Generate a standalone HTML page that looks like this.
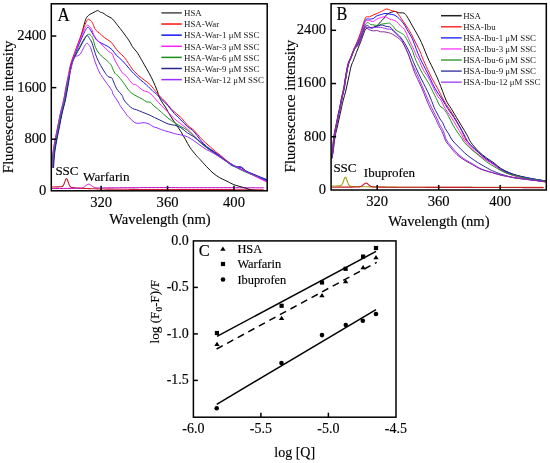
<!DOCTYPE html><html><head><meta charset="utf-8"><style>html,body{margin:0;padding:0;background:#fff;width:550px;height:463px;overflow:hidden}svg{display:block;will-change:transform}text{font-family:"Liberation Serif",serif;fill:#000;stroke:#000;stroke-width:0.15px}</style></head><body>
<svg width="550" height="463" viewBox="0 0 550 463">
<rect width="550" height="463" fill="#fff"/>
<defs>
<clipPath id="ca"><rect x="51.3" y="3.8" width="215.89999999999998" height="187.0"/></clipPath>
<clipPath id="cb"><rect x="331.1" y="3.7" width="215.19999999999993" height="186.3"/></clipPath>
</defs>
<g clip-path="url(#ca)">
<path d="M51.8,187.0 C52.5,187.0 54.5,186.9 55.8,186.9 C57.1,186.9 59.0,186.8 59.8,186.8 C60.5,186.8 60.1,186.8 60.3,186.8 C60.5,186.8 60.6,186.8 60.8,186.8 C61.0,186.8 61.1,186.8 61.3,186.8 C61.5,186.8 61.6,186.7 61.8,186.7 C62.0,186.6 62.1,186.6 62.3,186.5 C62.5,186.4 62.6,186.2 62.8,186.1 C63.0,185.9 63.1,185.7 63.3,185.4 C63.5,185.1 63.6,184.8 63.8,184.4 C64.0,184.1 64.1,183.6 64.3,183.2 C64.5,182.7 64.6,182.2 64.8,181.8 C65.0,181.3 65.1,180.8 65.3,180.4 C65.5,179.9 65.6,179.5 65.8,179.2 C66.0,179.0 66.1,178.8 66.3,178.7 C66.5,178.6 66.6,178.6 66.8,178.8 C67.0,178.9 67.1,179.2 67.3,179.5 C67.5,179.9 67.6,180.3 67.8,180.8 C68.0,181.3 68.1,181.8 68.3,182.3 C68.5,182.8 68.6,183.3 68.8,183.8 C69.0,184.2 69.1,184.7 69.3,185.0 C69.5,185.4 69.6,185.7 69.8,186.0 C70.0,186.3 70.1,186.5 70.3,186.7 C70.5,186.9 70.6,187.0 70.8,187.1 C71.0,187.2 71.1,187.3 71.3,187.4 C71.5,187.4 71.6,187.5 71.8,187.5 C72.0,187.5 72.1,187.6 72.3,187.6 C72.5,187.6 72.6,187.6 72.8,187.6 C73.0,187.7 73.1,187.7 73.3,187.7 C73.5,187.7 73.6,187.7 73.8,187.7 C74.0,187.7 74.1,187.8 74.3,187.8 C74.5,187.8 74.6,187.8 74.8,187.8 C75.0,187.8 74.5,187.8 75.3,187.8 C76.0,187.9 78.0,188.1 79.3,188.1 C80.6,188.2 82.0,188.3 83.3,188.4 C84.6,188.4 86.0,188.5 87.3,188.5 C88.6,188.6 90.0,188.6 91.3,188.7 C92.6,188.7 94.0,188.8 95.3,188.8 C96.6,188.9 98.0,188.9 99.3,189.0 C100.6,189.0 102.0,189.0 103.3,189.0 C104.6,189.1 106.0,189.1 107.3,189.1 C108.6,189.1 110.0,189.1 111.3,189.1 C112.6,189.2 114.0,189.2 115.3,189.2 C116.6,189.2 118.0,189.2 119.3,189.2 C120.6,189.3 122.0,189.3 123.3,189.3 C124.6,189.3 126.0,189.3 127.3,189.3 C128.6,189.4 130.0,189.4 131.3,189.4 C132.6,189.4 134.0,189.4 135.3,189.4 C136.6,189.5 138.0,189.5 139.3,189.5 C140.6,189.5 142.0,189.5 143.3,189.5 C144.6,189.5 146.0,189.5 147.3,189.5 C148.6,189.5 150.0,189.5 151.3,189.5 C152.6,189.5 154.0,189.5 155.3,189.5 C156.6,189.5 158.0,189.5 159.3,189.5 C160.6,189.5 162.0,189.5 163.3,189.5 C164.6,189.5 166.0,189.5 167.3,189.5 C168.6,189.5 170.0,189.5 171.3,189.6 C172.6,189.6 174.0,189.6 175.3,189.6 C176.6,189.6 178.0,189.6 179.3,189.6 C180.6,189.6 182.0,189.6 183.3,189.6 C184.6,189.6 186.0,189.6 187.3,189.6 C188.6,189.6 190.0,189.6 191.3,189.6 C192.6,189.6 194.0,189.6 195.3,189.6 C196.6,189.6 198.0,189.6 199.3,189.6 C200.6,189.6 202.0,189.6 203.3,189.6 C204.6,189.6 206.0,189.6 207.3,189.6 C208.6,189.6 210.0,189.6 211.3,189.6 C212.6,189.6 214.0,189.6 215.3,189.6 C216.6,189.6 218.0,189.6 219.3,189.6 C220.6,189.6 222.0,189.6 223.3,189.6 C224.6,189.6 226.0,189.6 227.3,189.6 C228.6,189.6 230.0,189.6 231.3,189.6 C232.6,189.6 234.0,189.7 235.3,189.7 C236.6,189.7 238.0,189.7 239.3,189.7 C240.6,189.7 242.0,189.7 243.3,189.7 C244.6,189.7 246.0,189.7 247.3,189.7 C248.6,189.7 250.0,189.7 251.3,189.7 C252.6,189.7 254.0,189.7 255.3,189.7 C256.6,189.7 258.0,189.7 259.3,189.7 C260.6,189.7 262.6,189.7 263.3,189.7" fill="none" stroke="#c81a30" stroke-width="1.1" stroke-linejoin="round" stroke-linecap="round" />
<path d="M51.8,188.5 C52.5,188.5 54.5,188.5 55.8,188.5 C57.1,188.5 58.5,188.5 59.8,188.4 C61.1,188.4 62.5,188.4 63.8,188.4 C65.1,188.4 66.5,188.4 67.8,188.4 C69.1,188.4 70.5,188.4 71.8,188.4 C73.1,188.3 75.0,188.3 75.8,188.3 C76.5,188.3 76.1,188.3 76.3,188.3 C76.5,188.3 76.6,188.3 76.8,188.3 C77.0,188.3 77.1,188.3 77.3,188.3 C77.5,188.3 77.6,188.3 77.8,188.3 C78.0,188.3 78.1,188.3 78.3,188.3 C78.5,188.3 78.6,188.3 78.8,188.3 C79.0,188.3 79.1,188.3 79.3,188.3 C79.5,188.3 79.6,188.3 79.8,188.3 C80.0,188.3 80.1,188.2 80.3,188.2 C80.5,188.2 80.6,188.2 80.8,188.2 C81.0,188.2 81.1,188.1 81.3,188.1 C81.5,188.1 81.6,188.0 81.8,188.0 C82.0,188.0 82.1,187.9 82.3,187.9 C82.5,187.8 82.6,187.8 82.8,187.7 C83.0,187.6 83.1,187.6 83.3,187.5 C83.5,187.4 83.6,187.3 83.8,187.2 C84.0,187.1 84.1,187.0 84.3,186.9 C84.5,186.8 84.6,186.7 84.8,186.5 C85.0,186.4 85.1,186.3 85.3,186.1 C85.5,186.0 85.6,185.8 85.8,185.7 C86.0,185.6 86.1,185.4 86.3,185.3 C86.5,185.2 86.6,185.0 86.8,184.9 C87.0,184.8 87.1,184.7 87.3,184.6 C87.5,184.5 87.6,184.4 87.8,184.4 C88.0,184.3 88.1,184.2 88.3,184.2 C88.5,184.2 88.6,184.2 88.8,184.2 C89.0,184.2 89.1,184.2 89.3,184.3 C89.5,184.3 89.6,184.4 89.8,184.5 C90.0,184.6 90.1,184.7 90.3,184.8 C90.5,184.9 90.6,185.0 90.8,185.1 C91.0,185.2 91.1,185.4 91.3,185.5 C91.5,185.6 91.6,185.8 91.8,185.9 C92.0,186.0 92.1,186.2 92.3,186.3 C92.5,186.4 92.6,186.5 92.8,186.6 C93.0,186.7 93.1,186.8 93.3,186.9 C93.5,187.0 93.6,187.1 93.8,187.2 C94.0,187.3 94.1,187.3 94.3,187.4 C94.5,187.4 94.6,187.5 94.8,187.5 C95.0,187.6 95.1,187.6 95.3,187.7 C95.5,187.7 95.6,187.7 95.8,187.7 C96.0,187.8 96.1,187.8 96.3,187.8 C96.5,187.8 96.6,187.8 96.8,187.8 C97.0,187.8 97.1,187.8 97.3,187.9 C97.5,187.9 97.6,187.9 97.8,187.9 C98.0,187.9 98.1,187.9 98.3,187.9 C98.5,187.9 98.6,187.9 98.8,187.9 C99.0,187.9 99.1,187.9 99.3,187.9 C99.5,187.9 99.6,187.9 99.8,187.9 C100.0,187.9 100.1,187.9 100.3,187.9 C100.5,187.9 100.6,187.9 100.8,187.9 C101.0,187.9 101.1,187.9 101.3,187.9 C101.5,187.9 101.6,187.9 101.8,187.9 C102.0,187.9 102.1,187.9 102.3,187.9 C102.5,187.9 102.6,187.9 102.8,187.9 C103.0,187.9 102.5,187.9 103.3,187.9 C104.0,187.9 106.0,187.8 107.3,187.8 C108.6,187.8 110.0,187.8 111.3,187.8 C112.6,187.8 114.0,187.8 115.3,187.8 C116.6,187.8 118.0,187.8 119.3,187.8 C120.6,187.8 122.0,187.8 123.3,187.7 C124.6,187.7 126.0,187.7 127.3,187.7 C128.6,187.7 130.0,187.7 131.3,187.7 C132.6,187.7 134.0,187.7 135.3,187.7 C136.6,187.7 138.0,187.7 139.3,187.7 C140.6,187.7 142.0,187.6 143.3,187.6 C144.6,187.6 146.0,187.6 147.3,187.6 C148.6,187.6 150.0,187.6 151.3,187.6 C152.6,187.6 154.0,187.6 155.3,187.6 C156.6,187.6 158.0,187.6 159.3,187.6 C160.6,187.6 162.0,187.6 163.3,187.6 C164.6,187.6 166.0,187.6 167.3,187.6 C168.6,187.6 170.0,187.6 171.3,187.6 C172.6,187.6 174.0,187.6 175.3,187.6 C176.6,187.6 178.0,187.6 179.3,187.7 C180.6,187.7 182.0,187.7 183.3,187.7 C184.6,187.7 186.0,187.7 187.3,187.7 C188.6,187.7 190.0,187.7 191.3,187.7 C192.6,187.7 194.0,187.7 195.3,187.7 C196.6,187.7 198.0,187.7 199.3,187.7 C200.6,187.7 202.0,187.7 203.3,187.7 C204.6,187.7 206.0,187.7 207.3,187.7 C208.6,187.7 210.0,187.7 211.3,187.7 C212.6,187.7 214.0,187.7 215.3,187.7 C216.6,187.7 218.0,187.7 219.3,187.7 C220.6,187.7 222.0,187.7 223.3,187.7 C224.6,187.7 226.0,187.7 227.3,187.7 C228.6,187.7 230.0,187.7 231.3,187.7 C232.6,187.7 234.0,187.7 235.3,187.7 C236.6,187.7 238.0,187.8 239.3,187.8 C240.6,187.8 242.0,187.8 243.3,187.8 C244.6,187.8 246.0,187.8 247.3,187.8 C248.6,187.8 250.0,187.8 251.3,187.8 C252.6,187.8 254.0,187.8 255.3,187.8 C256.6,187.8 258.0,187.8 259.3,187.8 C260.6,187.8 262.6,187.8 263.3,187.8" fill="none" stroke="#c000c0" stroke-width="1.0" stroke-linejoin="round" stroke-linecap="round" />
<path d="M53.0,167.5 C53.2,164.9 53.6,156.8 54.2,152.0 C54.8,147.2 55.6,143.3 56.4,139.0 C57.2,134.7 58.1,130.3 59.0,126.0 C59.9,121.7 60.6,117.3 61.6,113.0 C62.6,108.7 63.7,105.1 64.8,100.0 C65.9,94.9 67.1,87.6 68.0,82.5 C68.9,77.4 69.3,73.1 70.0,69.5 C70.7,65.9 71.2,64.2 72.2,61.0 C73.2,57.8 74.4,54.2 75.9,50.0 C77.4,45.8 79.6,40.8 81.1,36.0 C82.6,31.2 84.0,24.7 85.0,21.5 C86.0,18.3 86.0,18.2 86.9,17.0 C87.8,15.8 89.0,15.0 90.2,14.2 C91.4,13.4 92.8,12.9 94.0,12.3 C95.2,11.7 96.6,10.6 97.7,10.6 C98.8,10.6 99.7,12.0 100.5,12.3 C101.3,12.7 101.6,12.3 102.5,12.7 C103.4,13.1 104.8,14.3 105.7,14.9 C106.6,15.5 106.9,15.6 108.0,16.3 C109.1,17.0 110.8,17.4 112.4,18.9 C114.0,20.4 115.9,23.2 117.6,25.4 C119.3,27.5 120.8,29.2 122.7,31.8 C124.6,34.4 127.6,38.4 129.2,40.9 C130.8,43.4 131.3,44.9 132.4,46.6 C133.5,48.3 134.9,49.6 136.0,51.0 C137.1,52.4 137.6,53.0 138.9,55.2 C140.2,57.4 142.3,61.2 144.0,64.2 C145.7,67.2 147.7,70.5 149.2,73.3 C150.7,76.1 151.8,78.3 153.1,81.1 C154.4,83.9 155.8,87.2 157.0,90.2 C158.2,93.2 158.8,96.4 160.2,99.2 C161.6,102.0 163.7,104.2 165.4,107.0 C167.1,109.8 168.8,113.3 170.5,116.1 C172.2,118.9 174.0,121.3 175.7,123.9 C177.4,126.5 179.3,129.0 180.9,131.6 C182.5,134.2 184.0,136.8 185.5,139.5 C187.0,142.2 188.2,144.8 190.0,147.5 C191.8,150.2 194.7,153.5 196.4,155.5 C198.1,157.5 198.3,157.6 200.0,159.4 C201.7,161.2 204.3,164.2 206.5,166.5 C208.7,168.8 210.8,171.2 213.0,173.0 C215.2,174.8 217.2,176.2 219.4,177.5 C221.6,178.8 223.5,179.5 225.9,180.7 C228.3,181.9 231.3,183.6 233.7,184.6 C236.0,185.6 238.0,185.9 240.0,186.5 C242.0,187.1 243.8,187.6 245.5,188.1 C247.2,188.6 248.7,189.3 250.4,189.7 C252.2,190.1 255.1,190.4 256.0,190.5" fill="none" stroke="#111111" stroke-width="1.0" stroke-linejoin="round" stroke-linecap="round" />
<path d="M52.0,167.5 C52.2,164.9 52.6,156.8 53.2,152.0 C53.8,147.2 54.6,143.3 55.4,139.0 C56.2,134.7 57.1,130.3 58.0,126.0 C58.9,121.7 59.6,117.3 60.6,113.0 C61.6,108.7 62.7,105.1 63.8,100.0 C64.9,94.9 66.1,87.6 67.0,82.5 C67.9,77.4 68.6,73.1 69.4,69.5 C70.2,65.9 70.5,64.4 71.6,61.0 C72.7,57.6 74.3,53.5 75.9,49.2 C77.5,44.9 79.6,39.1 81.1,35.0 C82.6,30.9 83.9,27.1 85.0,24.6 C86.1,22.1 86.8,20.7 87.5,19.8 C88.2,18.9 88.4,19.2 89.1,19.5 C89.8,19.8 90.8,20.6 91.5,21.4 C92.2,22.2 92.3,22.7 93.0,24.1 C93.7,25.5 94.4,28.4 95.5,29.9 C96.6,31.4 97.9,31.8 99.4,33.1 C100.9,34.4 102.6,36.2 104.6,37.7 C106.5,39.2 109.4,40.6 111.1,42.2 C112.8,43.8 113.7,45.7 115.0,47.4 C116.3,49.1 117.3,50.5 118.9,52.2 C120.5,53.9 122.9,55.6 124.5,57.5 C126.1,59.4 127.1,61.5 128.5,63.5 C129.9,65.5 131.4,67.9 132.7,69.5 C133.9,71.1 135.0,71.9 136.0,73.0 C137.0,74.1 137.6,74.8 138.9,75.9 C140.2,77.0 142.1,78.3 144.0,79.8 C145.9,81.3 148.6,83.0 150.5,85.0 C152.4,87.0 154.1,89.6 155.7,91.5 C157.3,93.4 158.4,94.8 160.0,96.5 C161.6,98.2 163.4,99.6 165.4,101.8 C167.4,104.0 169.2,107.0 171.8,109.6 C174.4,112.2 178.3,114.8 180.9,117.4 C183.5,120.0 185.2,123.0 187.4,125.2 C189.6,127.4 191.8,128.3 193.9,130.3 C196.0,132.3 198.1,135.3 200.0,137.3 C201.9,139.3 203.5,140.9 205.2,142.5 C206.9,144.1 208.7,145.5 210.4,147.0 C212.1,148.5 213.9,150.2 215.6,151.6 C217.3,153.0 219.0,154.1 220.7,155.5 C222.4,156.9 224.2,158.6 225.9,160.0 C227.6,161.4 229.4,162.7 231.1,163.9 C232.8,165.1 234.6,166.1 236.3,167.0 C238.0,167.9 240.0,168.8 241.5,169.5 C243.0,170.2 243.7,170.7 245.4,171.5 C247.1,172.3 249.8,173.5 251.9,174.5 C254.1,175.5 255.9,176.4 258.3,177.5 C260.7,178.6 265.1,180.4 266.5,181.0" fill="none" stroke="#ff1010" stroke-width="1.0" stroke-linejoin="round" stroke-linecap="round" />
<path d="M53.2,167.5 C53.4,164.9 53.8,156.8 54.4,152.0 C55.0,147.2 55.8,143.3 56.6,139.0 C57.4,134.7 58.3,130.3 59.2,126.0 C60.1,121.7 60.8,117.3 61.8,113.0 C62.8,108.7 63.9,105.1 65.0,100.0 C66.1,94.9 67.3,87.6 68.2,82.5 C69.1,77.4 69.5,73.1 70.2,69.5 C70.9,65.9 71.5,63.9 72.4,61.0 C73.3,58.1 74.5,55.2 75.8,52.0 C77.1,48.8 78.6,45.2 80.0,42.0 C81.4,38.8 82.9,35.2 84.0,33.0 C85.1,30.8 85.8,29.4 86.5,28.5 C87.2,27.6 87.7,27.1 88.4,27.3 C89.1,27.6 89.7,28.8 90.5,30.0 C91.3,31.2 92.0,32.7 93.0,34.4 C94.0,36.1 95.3,38.8 96.8,40.3 C98.3,41.8 100.3,42.5 102.0,43.5 C103.7,44.5 105.5,45.0 107.2,46.1 C108.9,47.2 110.9,48.5 112.4,50.0 C113.9,51.5 114.6,53.4 116.3,55.2 C118.0,57.0 120.6,58.8 122.7,61.0 C124.8,63.2 127.4,66.4 129.2,68.5 C131.0,70.6 131.9,71.7 133.7,73.5 C135.5,75.3 138.0,77.6 140.2,79.5 C142.3,81.4 144.4,83.0 146.6,85.0 C148.8,87.0 151.7,90.2 153.1,91.5 C154.5,92.8 153.6,91.5 155.0,92.8 C156.4,94.1 159.3,97.0 161.5,99.2 C163.7,101.4 165.8,103.3 168.0,105.7 C170.2,108.1 172.2,111.1 174.4,113.5 C176.6,115.9 178.7,117.8 180.9,120.0 C183.1,122.2 185.2,124.6 187.4,126.5 C189.6,128.4 191.8,129.4 193.9,131.6 C196.0,133.8 197.9,137.0 200.0,139.5 C202.1,142.0 204.3,144.5 206.5,146.4 C208.7,148.3 210.8,149.4 213.0,150.9 C215.2,152.4 217.2,153.9 219.4,155.5 C221.6,157.1 224.0,159.0 225.9,160.6 C227.8,162.2 229.4,164.1 231.1,165.2 C232.8,166.3 234.6,166.7 236.3,167.1 C238.0,167.5 240.0,167.2 241.5,167.8 C243.0,168.5 243.7,170.0 245.4,171.0 C247.1,172.0 249.8,172.7 251.9,173.6 C254.1,174.5 255.9,175.2 258.3,176.2 C260.7,177.2 265.1,178.9 266.5,179.4" fill="none" stroke="#1515ff" stroke-width="1.0" stroke-linejoin="round" stroke-linecap="round" />
<path d="M52.5,167.5 C52.7,164.9 53.1,156.8 53.7,152.0 C54.3,147.2 55.1,143.3 55.9,139.0 C56.7,134.7 57.6,130.3 58.5,126.0 C59.4,121.7 60.1,117.3 61.1,113.0 C62.1,108.7 63.2,105.1 64.3,100.0 C65.4,94.9 66.5,87.6 67.5,82.5 C68.4,77.4 69.2,73.1 70.0,69.5 C70.8,65.9 71.3,64.1 72.2,61.0 C73.1,57.9 74.3,54.5 75.6,51.0 C76.9,47.5 78.6,43.5 80.0,40.0 C81.4,36.5 83.0,32.3 84.0,30.0 C85.0,27.7 85.7,26.8 86.3,26.0 C86.9,25.2 87.3,25.0 87.8,25.1 C88.3,25.2 88.8,25.8 89.5,26.5 C90.2,27.2 90.9,27.7 91.7,29.2 C92.5,30.7 93.1,33.8 94.2,35.7 C95.3,37.7 96.6,39.2 98.1,40.9 C99.6,42.6 101.6,44.4 103.3,46.1 C105.0,47.8 107.0,50.0 108.5,51.3 C110.0,52.6 111.5,52.8 112.4,53.9 C113.3,55.0 113.1,56.2 113.7,57.7 C114.3,59.2 115.2,60.9 116.3,62.9 C117.4,64.8 119.1,67.7 120.2,69.4 C121.3,71.1 121.8,72.3 122.7,73.3 C123.7,74.3 124.3,73.8 125.9,75.5 C127.5,77.2 130.7,82.1 132.4,83.7 C134.1,85.3 134.6,83.9 136.3,85.0 C138.0,86.1 140.5,88.9 142.7,90.2 C144.8,91.5 147.0,91.2 149.2,92.7 C151.4,94.2 153.6,97.0 155.7,99.2 C157.8,101.4 159.4,103.5 161.5,105.7 C163.6,107.9 165.8,110.0 168.0,112.2 C170.2,114.4 172.2,116.8 174.4,118.7 C176.6,120.7 178.7,122.2 180.9,123.9 C183.1,125.6 185.2,127.1 187.4,129.0 C189.6,130.9 191.8,133.3 193.9,135.5 C196.1,137.7 198.2,140.0 200.3,142.0 C202.4,144.0 204.4,145.8 206.5,147.5 C208.6,149.2 210.8,150.6 213.0,152.0 C215.2,153.4 217.2,154.6 219.4,156.0 C221.6,157.4 224.0,159.1 225.9,160.5 C227.8,161.9 228.5,163.1 231.1,164.5 C233.7,165.9 238.0,167.3 241.5,169.0 C245.0,170.7 249.1,173.0 251.9,174.5 C254.7,176.0 255.9,176.6 258.3,177.8 C260.7,179.1 265.1,181.3 266.5,182.0" fill="none" stroke="#ff20ff" stroke-width="1.0" stroke-linejoin="round" stroke-linecap="round" />
<path d="M52.8,167.5 C53.0,164.9 53.4,156.8 54.0,152.0 C54.6,147.2 55.4,143.3 56.2,139.0 C57.0,134.7 57.9,130.3 58.8,126.0 C59.7,121.7 60.4,117.3 61.4,113.0 C62.4,108.7 63.5,105.1 64.6,100.0 C65.7,94.9 66.8,87.6 67.8,82.5 C68.8,77.4 69.6,73.1 70.4,69.5 C71.2,65.9 71.7,63.6 72.6,61.0 C73.5,58.4 74.6,56.5 75.8,54.0 C77.0,51.5 78.6,48.5 80.0,46.0 C81.4,43.5 82.8,40.8 84.0,39.0 C85.2,37.2 86.2,35.8 87.0,35.0 C87.8,34.2 88.4,34.1 89.1,34.2 C89.8,34.3 90.3,34.7 91.0,35.5 C91.7,36.3 92.2,37.0 93.0,39.0 C93.8,41.0 94.4,44.9 95.5,47.4 C96.6,49.9 97.7,51.8 99.4,53.9 C101.1,56.0 104.0,57.9 105.9,59.7 C107.9,61.5 110.0,63.5 111.1,64.9 C112.2,66.3 111.8,66.7 112.4,68.1 C113.1,69.5 114.0,72.0 115.0,73.3 C116.0,74.6 116.7,74.4 118.1,75.9 C119.5,77.4 121.3,79.8 123.3,82.4 C125.2,85.0 127.6,89.2 129.8,91.5 C132.0,93.8 134.2,94.7 136.3,96.0 C138.5,97.3 141.0,98.2 142.7,99.2 C144.4,100.2 145.3,101.4 146.6,101.9 C147.9,102.4 149.4,101.8 150.5,102.3 C151.6,102.8 152.0,104.2 153.1,105.2 C154.2,106.2 155.8,107.4 157.0,108.4 C158.2,109.4 158.2,109.4 160.0,111.0 C161.8,112.6 165.6,116.1 168.0,118.0 C170.4,119.9 172.2,121.2 174.4,122.6 C176.6,124.0 178.7,125.2 180.9,126.5 C183.1,127.8 185.2,128.7 187.4,130.3 C189.6,131.9 191.8,134.1 193.9,136.2 C196.1,138.2 198.2,140.7 200.3,142.6 C202.4,144.5 204.4,145.9 206.5,147.5 C208.6,149.1 210.8,150.8 213.0,152.3 C215.2,153.9 217.2,155.3 219.4,156.8 C221.6,158.3 223.1,159.5 225.9,161.3 C228.7,163.1 233.1,165.7 236.3,167.5 C239.6,169.3 241.7,170.4 245.4,172.0 C249.1,173.6 254.8,175.6 258.3,177.0 C261.8,178.4 265.1,179.9 266.5,180.5" fill="none" stroke="#1a901a" stroke-width="1.0" stroke-linejoin="round" stroke-linecap="round" />
<path d="M53.6,167.5 C53.8,164.9 54.2,156.8 54.8,152.0 C55.4,147.2 56.2,143.3 57.0,139.0 C57.8,134.7 58.7,130.3 59.6,126.0 C60.5,121.7 61.2,117.3 62.2,113.0 C63.2,108.7 64.3,105.1 65.4,100.0 C66.5,94.9 67.7,87.6 68.6,82.5 C69.5,77.4 69.9,73.1 70.6,69.5 C71.3,65.9 71.9,63.4 72.8,61.0 C73.7,58.6 74.6,57.2 75.8,55.0 C77.0,52.8 78.6,50.0 80.0,47.5 C81.4,45.0 83.0,41.8 84.0,40.0 C85.0,38.2 85.6,37.2 86.2,36.5 C86.8,35.8 87.0,35.4 87.5,35.7 C88.0,36.0 88.8,37.4 89.5,38.5 C90.2,39.6 90.9,40.3 91.7,42.2 C92.5,44.1 93.4,47.4 94.2,50.0 C95.0,52.6 95.7,55.1 96.8,57.7 C97.9,60.3 99.4,63.1 100.7,65.5 C102.0,67.9 103.4,70.2 104.6,72.0 C105.8,73.8 106.8,75.5 108.0,76.5 C109.2,77.5 110.9,77.1 111.7,77.8 C112.5,78.5 112.2,78.6 113.0,80.4 C113.8,82.2 115.3,86.4 116.8,88.9 C118.3,91.4 120.8,93.5 122.0,95.3 C123.2,97.1 122.9,98.3 124.0,100.0 C125.1,101.7 127.1,103.8 128.5,105.2 C129.9,106.6 131.1,107.7 132.4,108.4 C133.7,109.2 134.6,109.1 136.3,109.7 C138.0,110.3 140.5,111.4 142.7,112.3 C144.8,113.2 147.2,114.0 149.2,114.9 C151.1,115.8 152.6,116.6 154.4,117.5 C156.2,118.4 157.7,119.0 160.0,120.1 C162.3,121.2 165.6,123.1 168.0,123.9 C170.4,124.8 172.2,124.6 174.4,125.2 C176.6,125.8 178.7,126.4 180.9,127.7 C183.1,129.0 185.2,131.4 187.4,132.9 C189.6,134.4 191.8,135.3 193.9,136.8 C196.1,138.3 198.2,140.3 200.3,142.0 C202.4,143.7 204.4,145.4 206.5,147.0 C208.6,148.6 210.8,150.0 213.0,151.5 C215.2,153.0 217.2,154.5 219.4,156.0 C221.6,157.5 224.0,159.3 225.9,160.6 C227.8,161.9 229.4,163.0 231.1,164.0 C232.8,165.0 234.6,166.0 236.3,166.5 C238.0,167.0 240.0,166.3 241.5,167.0 C243.0,167.7 243.7,169.4 245.4,170.5 C247.1,171.6 249.8,172.8 251.9,173.8 C254.1,174.8 255.9,175.5 258.3,176.5 C260.7,177.5 265.1,179.4 266.5,180.0" fill="none" stroke="#24248e" stroke-width="1.0" stroke-linejoin="round" stroke-linecap="round" />
<path d="M51.8,167.5 C52.0,164.9 52.4,156.8 53.0,152.0 C53.6,147.2 54.4,143.3 55.2,139.0 C56.0,134.7 56.9,130.3 57.8,126.0 C58.7,121.7 59.4,117.3 60.4,113.0 C61.4,108.7 62.5,105.1 63.6,100.0 C64.7,94.9 65.6,87.6 66.8,82.5 C68.0,77.4 69.8,73.1 70.8,69.5 C71.8,65.9 72.2,63.2 73.0,61.0 C73.8,58.8 74.7,57.4 75.5,56.5 C76.3,55.6 77.0,56.2 77.8,55.8 C78.6,55.4 79.5,55.0 80.4,53.9 C81.3,52.8 82.2,50.6 83.0,49.0 C83.8,47.4 84.8,45.5 85.5,44.5 C86.2,43.5 86.6,43.2 87.1,43.2 C87.6,43.2 88.0,43.8 88.5,44.5 C89.0,45.2 89.7,45.6 90.4,47.4 C91.2,49.2 92.2,52.6 93.0,55.2 C93.8,57.8 94.7,60.5 95.5,62.9 C96.3,65.3 97.2,67.5 98.1,69.4 C99.0,71.4 99.5,72.6 100.7,74.6 C101.9,76.5 103.4,78.5 105.2,81.1 C107.0,83.7 110.4,88.0 111.7,90.2 C113.0,92.4 111.9,92.1 113.0,94.0 C114.1,95.9 116.8,99.7 118.1,101.8 C119.4,103.9 119.6,104.8 120.7,106.5 C121.8,108.2 123.5,110.2 124.6,111.7 C125.7,113.2 126.1,114.2 127.2,115.5 C128.3,116.8 129.8,118.2 131.1,119.4 C132.4,120.6 133.7,122.1 135.0,122.7 C136.3,123.3 137.4,123.3 138.9,123.3 C140.4,123.3 142.3,122.6 144.0,122.7 C145.7,122.8 147.7,123.3 149.2,124.0 C150.7,124.7 151.8,126.0 153.1,126.6 C154.4,127.2 155.6,127.3 157.0,127.8 C158.4,128.3 159.7,129.1 161.5,129.7 C163.3,130.3 165.8,130.9 168.0,131.6 C170.2,132.2 172.2,133.0 174.4,133.6 C176.6,134.2 178.7,134.4 180.9,134.9 C183.1,135.4 185.2,135.8 187.4,136.8 C189.6,137.8 191.8,139.3 193.9,140.7 C196.0,142.1 197.9,143.6 200.0,145.1 C202.1,146.6 204.3,148.3 206.5,149.6 C208.7,150.9 210.8,151.7 213.0,152.9 C215.2,154.1 217.2,155.5 219.4,156.8 C221.6,158.2 223.1,159.3 225.9,161.0 C228.7,162.7 233.1,165.2 236.3,167.0 C239.6,168.8 241.7,169.8 245.4,171.5 C249.1,173.2 254.8,175.4 258.3,177.0 C261.8,178.6 265.1,180.3 266.5,181.0" fill="none" stroke="#9530ff" stroke-width="1.0" stroke-linejoin="round" stroke-linecap="round" />
</g>
<g clip-path="url(#cb)">
<path d="M331.8,186.0 C332.5,186.0 334.5,186.0 335.8,186.0 C337.1,185.9 339.1,185.9 339.8,185.8 C340.6,185.8 340.1,185.8 340.3,185.8 C340.5,185.7 340.6,185.7 340.8,185.6 C341.0,185.5 341.1,185.4 341.3,185.3 C341.5,185.2 341.6,185.0 341.8,184.8 C342.0,184.6 342.1,184.3 342.3,184.0 C342.5,183.7 342.6,183.3 342.8,182.9 C343.0,182.5 343.1,182.0 343.3,181.6 C343.5,181.1 343.6,180.6 343.8,180.1 C344.0,179.6 344.1,179.1 344.3,178.7 C344.5,178.3 344.6,178.0 344.8,177.7 C345.0,177.5 345.1,177.3 345.3,177.3 C345.5,177.2 345.6,177.3 345.8,177.5 C346.0,177.7 346.1,178.0 346.3,178.4 C346.5,178.7 346.6,179.2 346.8,179.7 C347.0,180.1 347.1,180.7 347.3,181.2 C347.5,181.7 347.6,182.2 347.8,182.6 C348.0,183.1 348.1,183.5 348.3,183.9 C348.5,184.3 348.6,184.6 348.8,184.8 C349.0,185.1 349.1,185.3 349.3,185.5 C349.5,185.7 349.6,185.8 349.8,185.9 C350.0,186.1 350.1,186.1 350.3,186.2 C350.5,186.3 350.6,186.3 350.8,186.3 C351.0,186.4 351.1,186.4 351.3,186.4 C351.5,186.4 351.6,186.4 351.8,186.4 C352.0,186.4 352.1,186.4 352.3,186.5 C352.5,186.5 352.6,186.5 352.8,186.5 C353.0,186.5 353.1,186.5 353.3,186.5 C353.5,186.5 353.6,186.5 353.8,186.5 C354.0,186.5 354.1,186.5 354.3,186.5 C354.5,186.5 354.1,186.5 354.8,186.5 C355.6,186.5 357.5,186.6 358.8,186.6 C360.1,186.7 361.5,186.7 362.8,186.7 C364.1,186.8 365.5,186.8 366.8,186.8 C368.1,186.9 369.5,186.9 370.8,186.9 C372.1,186.9 373.5,186.9 374.8,186.9 C376.1,187.0 377.5,187.0 378.8,187.0 C380.1,187.0 381.5,187.0 382.8,187.0 C384.1,187.0 385.5,187.1 386.8,187.1 C388.1,187.1 389.5,187.1 390.8,187.1 C392.1,187.1 393.5,187.1 394.8,187.1 C396.1,187.2 397.5,187.2 398.8,187.2 C400.1,187.2 401.5,187.2 402.8,187.2 C404.1,187.2 405.5,187.2 406.8,187.2 C408.1,187.2 409.5,187.2 410.8,187.2 C412.1,187.2 413.5,187.2 414.8,187.2 C416.1,187.2 417.5,187.2 418.8,187.2 C420.1,187.2 421.5,187.2 422.8,187.2 C424.1,187.2 425.5,187.2 426.8,187.2 C428.1,187.2 429.5,187.2 430.8,187.2 C432.1,187.2 433.5,187.2 434.8,187.2 C436.1,187.2 437.5,187.3 438.8,187.3 C440.1,187.3 441.5,187.3 442.8,187.3 C444.1,187.3 445.5,187.3 446.8,187.3 C448.1,187.3 449.5,187.3 450.8,187.3 C452.1,187.3 453.5,187.3 454.8,187.3 C456.1,187.3 457.5,187.3 458.8,187.3 C460.1,187.3 461.5,187.3 462.8,187.3 C464.1,187.3 465.5,187.3 466.8,187.3 C468.1,187.3 469.5,187.3 470.8,187.3 C472.1,187.3 473.5,187.3 474.8,187.3 C476.1,187.3 477.5,187.3 478.8,187.3 C480.1,187.3 481.5,187.3 482.8,187.3 C484.1,187.3 485.5,187.3 486.8,187.3 C488.1,187.3 489.5,187.3 490.8,187.3 C492.1,187.3 493.5,187.3 494.8,187.3 C496.1,187.3 497.5,187.3 498.8,187.3 C500.1,187.3 501.5,187.3 502.8,187.3 C504.1,187.3 505.5,187.3 506.8,187.3 C508.1,187.3 509.5,187.4 510.8,187.4 C512.1,187.4 513.5,187.4 514.8,187.4 C516.1,187.4 517.5,187.4 518.8,187.4 C520.1,187.4 521.5,187.4 522.8,187.4 C524.1,187.4 525.5,187.4 526.8,187.4 C528.1,187.4 529.5,187.4 530.8,187.4 C532.1,187.4 533.5,187.4 534.8,187.4 C536.1,187.4 537.5,187.4 538.8,187.4 C540.1,187.4 542.1,187.4 542.8,187.4" fill="none" stroke="#a0a010" stroke-width="1.1" stroke-linejoin="round" stroke-linecap="round" />
<path d="M331.8,187.2 C332.5,187.2 334.5,187.2 335.8,187.2 C337.1,187.2 338.5,187.2 339.8,187.1 C341.1,187.1 342.5,187.1 343.8,187.1 C345.1,187.1 346.5,187.1 347.8,187.1 C349.1,187.1 350.5,187.1 351.8,187.1 C353.1,187.0 355.1,187.0 355.8,187.0 C356.6,187.0 356.1,187.0 356.3,187.0 C356.5,187.0 356.6,187.0 356.8,187.0 C357.0,187.0 357.1,187.0 357.3,187.0 C357.5,187.0 357.6,187.0 357.8,187.0 C358.0,187.0 358.1,187.0 358.3,187.0 C358.5,186.9 358.6,186.9 358.8,186.9 C359.0,186.9 359.1,186.9 359.3,186.9 C359.5,186.8 359.6,186.8 359.8,186.8 C360.0,186.7 360.1,186.7 360.3,186.6 C360.5,186.6 360.6,186.5 360.8,186.5 C361.0,186.4 361.1,186.3 361.3,186.2 C361.5,186.2 361.6,186.1 361.8,185.9 C362.0,185.8 362.1,185.7 362.3,185.6 C362.5,185.5 362.6,185.3 362.8,185.2 C363.0,185.0 363.1,184.9 363.3,184.7 C363.5,184.6 363.6,184.4 363.8,184.3 C364.0,184.1 364.1,184.0 364.3,183.9 C364.5,183.7 364.6,183.6 364.8,183.5 C365.0,183.4 365.1,183.3 365.3,183.2 C365.5,183.2 365.6,183.1 365.8,183.1 C366.0,183.1 366.1,183.1 366.3,183.1 C366.5,183.2 366.6,183.2 366.8,183.3 C367.0,183.4 367.1,183.4 367.3,183.6 C367.5,183.7 367.6,183.8 367.8,183.9 C368.0,184.1 368.1,184.2 368.3,184.4 C368.5,184.5 368.6,184.7 368.8,184.8 C369.0,185.0 369.1,185.1 369.3,185.3 C369.5,185.4 369.6,185.5 369.8,185.7 C370.0,185.8 370.1,185.9 370.3,186.0 C370.5,186.1 370.6,186.2 370.8,186.3 C371.0,186.4 371.1,186.4 371.3,186.5 C371.5,186.6 371.6,186.6 371.8,186.7 C372.0,186.7 372.1,186.8 372.3,186.8 C372.5,186.8 372.6,186.9 372.8,186.9 C373.0,186.9 373.1,186.9 373.3,186.9 C373.5,186.9 373.6,186.9 373.8,187.0 C374.0,187.0 374.1,187.0 374.3,187.0 C374.5,187.0 374.6,187.0 374.8,187.0 C375.0,187.0 375.1,187.0 375.3,187.0 C375.5,187.0 375.6,187.0 375.8,187.0 C376.0,187.0 376.1,187.0 376.3,187.0 C376.5,187.0 376.6,187.0 376.8,187.0 C377.0,187.0 377.1,187.0 377.3,187.0 C377.5,187.0 377.6,187.0 377.8,187.0 C378.0,187.0 378.1,187.0 378.3,187.0 C378.5,187.1 378.6,187.1 378.8,187.1 C379.0,187.1 378.6,187.1 379.3,187.1 C380.1,187.1 382.0,187.1 383.3,187.1 C384.6,187.1 386.0,187.1 387.3,187.2 C388.6,187.2 390.0,187.2 391.3,187.2 C392.6,187.2 394.0,187.2 395.3,187.2 C396.6,187.3 398.0,187.3 399.3,187.3 C400.6,187.3 402.0,187.3 403.3,187.3 C404.6,187.3 406.0,187.3 407.3,187.3 C408.6,187.3 410.0,187.3 411.3,187.3 C412.6,187.3 414.0,187.3 415.3,187.3 C416.6,187.3 418.0,187.3 419.3,187.3 C420.6,187.3 422.0,187.3 423.3,187.3 C424.6,187.4 426.0,187.4 427.3,187.4 C428.6,187.4 430.0,187.4 431.3,187.4 C432.6,187.4 434.0,187.4 435.3,187.4 C436.6,187.4 438.0,187.4 439.3,187.4 C440.6,187.4 442.0,187.4 443.3,187.4 C444.6,187.4 446.0,187.4 447.3,187.4 C448.6,187.4 450.0,187.4 451.3,187.4 C452.6,187.4 454.0,187.4 455.3,187.4 C456.6,187.4 458.0,187.4 459.3,187.4 C460.6,187.4 462.0,187.4 463.3,187.4 C464.6,187.4 466.0,187.4 467.3,187.4 C468.6,187.4 470.0,187.4 471.3,187.4 C472.6,187.4 474.0,187.5 475.3,187.5 C476.6,187.5 478.0,187.5 479.3,187.5 C480.6,187.5 482.0,187.5 483.3,187.5 C484.6,187.5 486.0,187.5 487.3,187.5 C488.6,187.5 490.0,187.5 491.3,187.5 C492.6,187.5 494.0,187.5 495.3,187.5 C496.6,187.5 498.0,187.5 499.3,187.5 C500.6,187.5 502.0,187.5 503.3,187.5 C504.6,187.5 506.0,187.5 507.3,187.5 C508.6,187.5 510.0,187.5 511.3,187.5 C512.6,187.5 514.0,187.5 515.3,187.5 C516.6,187.5 518.0,187.5 519.3,187.5 C520.6,187.5 522.0,187.6 523.3,187.6 C524.6,187.6 526.0,187.6 527.3,187.6 C528.6,187.6 530.0,187.6 531.3,187.6 C532.6,187.6 534.0,187.6 535.3,187.6 C536.6,187.6 538.0,187.6 539.3,187.6 C540.6,187.6 542.6,187.6 543.3,187.6" fill="none" stroke="#c81a30" stroke-width="1.1" stroke-linejoin="round" stroke-linecap="round" />
<path d="M331.8,158.5 C332.1,156.9 333.0,152.6 333.5,149.0 C334.0,145.4 334.3,140.8 335.0,137.0 C335.7,133.2 336.5,130.5 337.5,126.0 C338.5,121.5 340.1,114.2 341.0,110.0 C341.9,105.8 342.2,104.3 343.0,101.0 C343.8,97.7 345.1,93.8 346.0,90.0 C346.9,86.2 347.7,82.0 348.6,78.0 C349.5,74.0 350.3,69.1 351.2,66.0 C352.1,62.9 352.8,62.3 353.8,59.6 C354.8,56.9 356.2,53.0 357.4,50.0 C358.6,47.0 359.7,44.3 360.8,41.5 C361.9,38.7 363.0,35.2 363.8,33.2 C364.6,31.2 364.9,30.2 365.4,29.4 C365.9,28.6 366.5,28.6 367.0,28.3 C367.5,28.0 367.6,27.9 368.6,27.7 C369.6,27.5 371.8,27.6 373.2,27.3 C374.6,27.0 375.6,26.8 376.8,25.9 C378.0,25.0 379.3,23.1 380.5,21.8 C381.7,20.5 383.1,19.4 384.1,18.2 C385.2,17.0 385.6,15.5 386.8,14.5 C388.0,13.5 390.0,12.8 391.4,12.3 C392.8,11.8 393.8,11.3 395.0,11.4 C396.2,11.5 397.1,12.4 398.6,12.7 C400.1,13.0 402.7,12.5 404.1,13.2 C405.5,13.9 405.8,14.7 407.2,16.8 C408.6,18.9 410.7,22.9 412.4,25.9 C414.1,28.9 416.1,32.2 417.6,35.0 C419.1,37.8 420.2,39.9 421.5,42.7 C422.8,45.5 424.1,48.8 425.3,51.8 C426.5,54.8 427.4,57.2 428.9,60.4 C430.3,63.5 432.3,67.0 434.0,70.7 C435.7,74.4 437.2,77.5 439.2,82.4 C441.2,87.3 444.0,95.6 446.0,100.0 C448.0,104.4 449.5,105.7 451.2,108.6 C452.9,111.5 454.7,114.4 456.4,117.3 C458.1,120.2 459.9,123.0 461.6,125.9 C463.3,128.8 465.2,131.8 466.8,134.6 C468.4,137.3 468.9,139.6 470.9,142.4 C472.9,145.2 476.1,148.9 478.7,151.5 C481.3,154.1 483.9,156.0 486.5,157.9 C489.1,159.8 491.8,161.3 494.2,163.1 C496.6,164.9 498.4,166.9 500.9,168.5 C503.4,170.1 506.4,171.4 509.1,172.6 C511.8,173.8 514.6,174.6 517.3,175.4 C520.0,176.2 522.8,176.7 525.5,177.3 C528.2,177.9 530.2,178.4 533.6,179.0 C537.0,179.6 543.8,180.7 545.8,181.0" fill="none" stroke="#111111" stroke-width="1.0" stroke-linejoin="round" stroke-linecap="round" />
<path d="M331.6,157.5 C331.8,156.1 332.1,152.7 332.5,149.2 C332.9,145.7 333.2,140.2 333.8,136.3 C334.4,132.4 335.0,129.9 335.8,126.0 C336.6,122.1 337.8,115.7 338.4,113.0 C339.0,110.3 338.7,111.9 339.2,109.6 C339.7,107.3 340.5,102.7 341.2,99.2 C341.9,95.8 342.8,92.4 343.5,88.9 C344.2,85.4 344.5,82.4 345.2,78.3 C345.9,74.2 346.9,68.0 347.8,64.5 C348.7,61.0 349.8,59.6 350.8,57.0 C351.8,54.4 352.8,51.6 353.9,49.0 C355.0,46.4 356.2,44.0 357.3,41.3 C358.4,38.6 359.5,35.6 360.5,32.7 C361.5,29.8 362.4,26.4 363.2,24.0 C364.0,21.6 364.9,19.3 365.4,18.1 C365.9,16.9 365.7,17.0 366.4,16.8 C367.1,16.6 368.4,17.1 369.5,16.8 C370.6,16.5 371.8,15.6 373.2,15.0 C374.6,14.4 376.3,13.8 377.7,13.2 C379.1,12.6 380.5,11.8 381.4,11.4 C382.3,11.0 382.3,10.9 383.2,10.5 C384.1,10.1 385.5,8.9 387.0,9.0 C388.5,9.1 390.8,10.5 392.3,10.9 C393.8,11.3 394.9,11.0 395.9,11.6 C396.9,12.2 397.6,13.3 398.5,14.5 C399.4,15.7 400.3,17.0 401.5,18.8 C402.7,20.6 404.3,22.7 405.9,25.2 C407.5,27.7 409.4,30.6 411.1,33.7 C412.8,36.8 414.8,41.0 416.3,44.0 C417.8,47.0 419.2,49.5 420.2,51.8 C421.2,54.1 421.2,54.9 422.4,57.8 C423.6,60.7 425.9,65.7 427.6,69.4 C429.3,73.1 431.0,76.5 432.7,79.8 C434.4,83.0 436.1,85.5 437.9,88.9 C439.7,92.3 441.6,96.7 443.5,100.0 C445.4,103.3 447.2,105.7 449.0,108.6 C450.8,111.5 452.8,114.4 454.5,117.3 C456.2,120.2 458.0,123.0 459.5,125.9 C461.0,128.8 462.2,132.2 463.3,134.5 C464.4,136.8 464.6,138.2 465.9,140.0 C467.2,141.8 468.8,143.2 470.9,145.3 C473.0,147.5 476.1,150.6 478.7,152.9 C481.3,155.2 483.9,157.5 486.5,159.4 C489.1,161.3 491.8,162.8 494.2,164.6 C496.6,166.4 498.4,168.4 500.9,170.0 C503.4,171.6 506.4,172.9 509.1,174.0 C511.8,175.1 514.6,175.8 517.3,176.5 C520.0,177.2 520.8,177.6 525.5,178.5 C530.2,179.4 542.4,181.4 545.8,182.0" fill="none" stroke="#ff1010" stroke-width="1.0" stroke-linejoin="round" stroke-linecap="round" />
<path d="M331.8,157.5 C331.9,156.1 332.3,152.7 332.7,149.2 C333.1,145.7 333.4,140.2 334.0,136.3 C334.6,132.4 335.2,129.9 336.0,126.0 C336.8,122.1 338.0,115.7 338.6,113.0 C339.2,110.3 338.9,111.9 339.4,109.6 C339.9,107.3 340.7,102.7 341.4,99.2 C342.1,95.8 343.0,92.4 343.7,88.9 C344.4,85.4 344.7,82.4 345.4,78.3 C346.1,74.2 347.1,68.0 348.0,64.5 C348.9,61.0 350.0,59.6 351.0,57.0 C352.0,54.4 353.0,51.5 354.1,49.0 C355.2,46.5 356.6,44.6 357.8,42.0 C359.0,39.4 360.0,36.3 361.0,33.5 C362.0,30.7 363.0,27.3 363.8,25.0 C364.6,22.7 364.9,20.5 365.9,19.5 C366.8,18.5 368.3,19.2 369.5,19.1 C370.7,19.0 372.0,19.1 373.2,18.6 C374.4,18.1 375.4,16.6 376.8,15.9 C378.2,15.2 380.0,14.9 381.4,14.5 C382.8,14.1 383.6,13.6 385.0,13.5 C386.4,13.4 388.0,13.8 389.5,14.1 C391.0,14.3 392.7,14.5 394.1,15.0 C395.5,15.5 396.5,16.3 397.7,17.3 C398.9,18.3 400.3,19.6 401.4,20.9 C402.5,22.2 403.5,23.5 404.5,25.0 C405.5,26.5 405.9,27.5 407.2,29.8 C408.5,32.1 410.9,35.7 412.4,38.9 C413.9,42.1 415.1,46.1 416.3,49.2 C417.5,52.4 418.4,54.6 419.8,57.8 C421.2,60.9 423.3,64.6 425.0,68.1 C426.7,71.5 428.5,75.0 430.2,78.5 C431.9,82.0 433.2,85.3 435.3,88.9 C437.4,92.5 440.5,96.7 442.6,100.0 C444.7,103.3 445.9,105.7 447.8,108.6 C449.7,111.5 451.9,114.4 453.8,117.3 C455.7,120.2 457.3,123.0 459.0,125.9 C460.7,128.8 462.9,132.2 464.2,134.6 C465.5,136.9 465.7,138.2 466.8,140.0 C467.9,141.8 469.0,143.4 471.0,145.5 C473.0,147.6 476.1,150.2 478.7,152.5 C481.3,154.8 483.9,157.1 486.5,159.0 C489.1,160.9 491.8,162.5 494.2,164.2 C496.6,165.9 498.4,167.8 500.9,169.3 C503.4,170.8 506.4,172.0 509.1,173.1 C511.8,174.2 514.6,175.0 517.3,175.7 C520.0,176.4 520.8,176.6 525.5,177.5 C530.2,178.4 542.4,180.4 545.8,181.0" fill="none" stroke="#1515ff" stroke-width="1.0" stroke-linejoin="round" stroke-linecap="round" />
<path d="M331.9,157.5 C332.1,156.1 332.4,152.7 332.8,149.2 C333.2,145.7 333.6,140.2 334.1,136.3 C334.7,132.4 335.3,129.9 336.1,126.0 C336.9,122.1 338.1,115.7 338.7,113.0 C339.3,110.3 339.0,111.9 339.5,109.6 C340.0,107.3 340.8,102.7 341.5,99.2 C342.2,95.8 343.1,92.4 343.8,88.9 C344.5,85.4 344.8,82.4 345.5,78.3 C346.2,74.2 347.2,68.0 348.1,64.5 C349.0,61.0 350.1,59.6 351.1,57.0 C352.1,54.4 353.1,51.4 354.2,49.0 C355.3,46.6 356.8,45.0 358.0,42.5 C359.2,40.0 360.2,36.8 361.2,34.0 C362.2,31.2 363.3,28.2 364.0,26.0 C364.7,23.8 364.7,21.9 365.5,21.0 C366.3,20.1 367.3,20.4 368.6,20.5 C369.9,20.6 371.8,21.6 373.2,21.4 C374.6,21.2 375.6,19.7 376.8,19.1 C378.0,18.5 379.3,18.1 380.5,17.7 C381.7,17.3 383.1,16.9 384.1,16.8 C385.2,16.7 385.9,16.9 386.8,17.3 C387.7,17.7 388.4,18.7 389.5,19.1 C390.6,19.6 392.0,19.6 393.2,20.0 C394.4,20.4 395.6,20.8 396.8,21.8 C398.0,22.8 399.2,24.6 400.5,25.9 C401.8,27.2 402.9,26.9 404.5,29.5 C406.1,32.1 408.3,38.2 409.8,41.5 C411.3,44.8 412.5,46.6 413.7,49.2 C414.9,51.8 416.1,55.4 416.9,57.0 C417.7,58.6 417.4,56.8 418.5,59.1 C419.6,61.4 422.1,67.7 423.7,70.7 C425.3,73.7 426.7,74.6 428.2,77.2 C429.7,79.8 431.1,83.1 432.7,86.3 C434.3,89.5 436.5,94.3 437.9,96.6 C439.3,98.9 439.7,98.0 440.9,100.0 C442.1,102.0 443.5,105.7 445.2,108.6 C446.9,111.5 449.3,114.4 451.2,117.3 C453.1,120.2 454.7,123.0 456.4,125.9 C458.1,128.8 460.3,132.2 461.6,134.6 C462.9,136.9 462.9,138.1 464.2,140.0 C465.5,141.9 467.4,143.8 469.5,146.0 C471.6,148.2 474.2,151.2 477.0,153.5 C479.8,155.8 483.1,158.1 486.0,160.0 C488.9,161.9 491.7,163.3 494.2,165.0 C496.7,166.7 498.4,168.5 500.9,170.0 C503.4,171.5 505.0,172.6 509.1,174.0 C513.2,175.4 519.4,177.2 525.5,178.5 C531.6,179.8 542.4,181.4 545.8,182.0" fill="none" stroke="#ff20ff" stroke-width="1.0" stroke-linejoin="round" stroke-linecap="round" />
<path d="M332.0,157.5 C332.1,156.1 332.5,152.7 332.9,149.2 C333.3,145.7 333.6,140.2 334.2,136.3 C334.8,132.4 335.4,129.9 336.2,126.0 C337.0,122.1 338.2,115.7 338.8,113.0 C339.4,110.3 339.1,111.9 339.6,109.6 C340.1,107.3 340.9,102.7 341.6,99.2 C342.3,95.8 343.2,92.4 343.9,88.9 C344.6,85.4 344.9,82.4 345.6,78.3 C346.3,74.2 347.3,68.0 348.2,64.5 C349.1,61.0 350.2,59.6 351.2,57.0 C352.2,54.4 353.1,51.3 354.3,49.0 C355.5,46.7 357.0,45.3 358.2,43.0 C359.4,40.7 360.4,37.6 361.4,35.0 C362.4,32.4 363.5,29.2 364.2,27.5 C364.9,25.8 364.9,25.5 365.5,24.6 C366.1,23.7 366.9,22.3 367.7,22.3 C368.5,22.3 369.4,24.1 370.5,24.5 C371.6,24.9 372.9,24.8 374.1,25.0 C375.3,25.2 376.5,25.6 377.7,25.5 C378.9,25.4 380.0,24.4 381.4,24.1 C382.8,23.8 384.5,23.8 385.9,23.6 C387.2,23.5 388.3,22.7 389.5,23.2 C390.7,23.7 392.1,25.3 393.2,26.4 C394.3,27.5 394.7,28.9 395.9,30.0 C397.1,31.1 399.1,31.8 400.5,32.7 C401.9,33.6 403.2,33.8 404.5,35.5 C405.8,37.2 407.2,40.2 408.5,42.7 C409.8,45.2 411.2,47.5 412.4,50.5 C413.6,53.5 414.2,56.6 415.9,60.4 C417.6,64.2 420.2,69.4 422.4,73.3 C424.6,77.2 427.0,80.2 428.9,83.7 C430.8,87.2 432.6,91.3 434.0,94.0 C435.4,96.7 436.0,98.0 437.0,100.0 C438.0,102.0 438.8,104.4 440.0,106.0 C441.2,107.6 442.9,107.8 444.3,109.5 C445.7,111.2 447.2,113.8 448.6,116.4 C450.1,119.0 451.6,122.5 453.0,125.1 C454.4,127.7 455.9,129.8 457.3,132.0 C458.7,134.2 460.4,136.3 461.6,138.0 C462.8,139.7 462.8,140.6 464.4,142.4 C465.9,144.2 468.5,146.8 470.9,148.9 C473.3,151.1 476.1,153.2 478.7,155.3 C481.3,157.5 483.9,159.9 486.5,161.8 C489.1,163.7 491.8,165.2 494.2,166.6 C496.6,168.0 498.4,169.3 500.9,170.5 C503.4,171.7 505.0,172.8 509.1,174.0 C513.2,175.2 519.4,176.8 525.5,178.0 C531.6,179.2 542.4,180.5 545.8,181.0" fill="none" stroke="#1a901a" stroke-width="1.0" stroke-linejoin="round" stroke-linecap="round" />
<path d="M332.1,157.5 C332.2,156.1 332.6,152.7 333.0,149.2 C333.4,145.7 333.8,140.2 334.3,136.3 C334.9,132.4 335.5,129.9 336.3,126.0 C337.1,122.1 338.3,115.7 338.9,113.0 C339.5,110.3 339.2,111.9 339.7,109.6 C340.2,107.3 341.0,102.7 341.7,99.2 C342.4,95.8 343.3,92.4 344.0,88.9 C344.7,85.4 345.0,82.4 345.7,78.3 C346.4,74.2 347.4,68.0 348.3,64.5 C349.2,61.0 350.3,59.6 351.3,57.0 C352.3,54.4 353.2,51.2 354.4,49.0 C355.6,46.8 357.2,45.8 358.4,43.5 C359.6,41.2 360.5,38.1 361.5,35.5 C362.5,32.9 363.7,29.6 364.4,28.0 C365.1,26.4 365.1,26.2 365.6,25.8 C366.2,25.4 366.7,25.1 367.7,25.5 C368.7,25.9 370.2,28.0 371.4,28.2 C372.6,28.4 373.8,27.2 375.0,26.8 C376.2,26.4 377.4,26.2 378.6,25.9 C379.8,25.6 381.1,24.9 382.3,25.0 C383.5,25.1 384.7,26.1 385.9,26.4 C387.1,26.7 388.3,26.2 389.5,26.8 C390.7,27.4 392.0,28.9 393.2,30.0 C394.4,31.1 395.6,32.4 396.8,33.6 C398.0,34.8 399.0,35.2 400.5,37.2 C402.0,39.2 404.3,42.6 405.9,45.3 C407.4,47.9 408.6,50.4 409.8,53.1 C411.0,55.8 411.9,58.3 413.3,61.7 C414.8,65.1 416.8,69.6 418.5,73.3 C420.2,77.0 422.2,80.7 423.7,83.7 C425.2,86.7 426.3,88.7 427.6,91.5 C428.9,94.3 430.4,97.8 431.5,100.5 C432.6,103.2 433.3,105.7 434.2,107.8 C435.1,109.9 436.0,111.1 437.0,113.0 C438.0,114.9 439.1,117.4 440.0,119.0 C440.9,120.6 441.7,120.9 442.6,122.5 C443.5,124.1 444.2,126.6 445.2,128.5 C446.2,130.4 447.5,131.8 448.6,133.7 C449.8,135.6 450.5,137.9 452.1,140.0 C453.7,142.1 455.9,144.2 458.0,146.3 C460.1,148.4 462.2,150.8 464.4,152.7 C466.5,154.6 468.5,156.2 470.9,157.9 C473.3,159.6 475.9,161.4 478.7,163.1 C481.5,164.8 485.4,167.0 487.7,168.3 C490.0,169.6 490.5,169.9 492.7,170.9 C494.9,171.9 498.2,173.2 500.9,174.2 C503.6,175.1 506.4,175.9 509.1,176.6 C511.8,177.3 511.2,177.5 517.3,178.3 C523.4,179.1 541.0,181.0 545.8,181.5" fill="none" stroke="#24248e" stroke-width="1.0" stroke-linejoin="round" stroke-linecap="round" />
<path d="M332.2,157.5 C332.4,156.1 332.7,152.7 333.1,149.2 C333.5,145.7 333.9,140.2 334.4,136.3 C335.0,132.4 335.6,129.9 336.4,126.0 C337.2,122.1 338.4,115.7 339.0,113.0 C339.6,110.3 339.3,111.9 339.8,109.6 C340.3,107.3 341.1,102.7 341.8,99.2 C342.5,95.8 343.4,92.4 344.1,88.9 C344.8,85.4 345.1,82.4 345.8,78.3 C346.5,74.2 347.5,68.0 348.4,64.5 C349.3,61.0 350.4,59.6 351.4,57.0 C352.4,54.4 353.3,51.2 354.5,49.0 C355.7,46.8 357.4,46.2 358.6,44.0 C359.8,41.8 360.6,38.2 361.6,35.5 C362.6,32.8 363.9,29.4 364.6,28.0 C365.3,26.6 365.3,26.9 366.0,26.8 C366.7,26.8 367.4,27.6 368.6,27.7 C369.8,27.8 371.8,27.8 373.2,27.7 C374.6,27.6 375.6,27.4 376.8,27.3 C378.0,27.2 379.3,27.2 380.5,27.3 C381.7,27.4 382.9,27.9 384.1,28.2 C385.3,28.5 386.5,28.9 387.7,29.1 C388.9,29.3 390.2,28.9 391.4,29.5 C392.6,30.1 393.8,31.6 395.0,32.7 C396.2,33.9 397.4,35.0 398.6,36.4 C399.8,37.8 400.7,38.0 402.3,41.0 C403.9,44.0 407.0,50.9 408.5,54.4 C410.0,57.9 409.7,58.3 411.1,61.7 C412.6,65.1 415.5,70.9 417.2,74.6 C418.9,78.3 419.8,80.7 421.1,83.7 C422.4,86.7 423.7,89.7 425.0,92.7 C426.3,95.7 427.8,99.3 428.9,101.8 C430.0,104.3 430.4,105.1 431.7,107.8 C433.0,110.5 435.4,115.2 436.8,118.1 C438.2,121.0 439.0,123.2 440.0,125.1 C441.0,127.0 441.7,127.5 442.6,129.4 C443.5,131.3 444.6,134.5 445.2,136.3 C445.8,138.1 445.7,138.6 446.5,140.0 C447.3,141.4 448.3,142.7 450.2,145.0 C452.1,147.3 455.4,151.5 458.0,154.0 C460.6,156.5 463.1,158.2 465.7,159.9 C468.3,161.6 470.9,162.9 473.5,164.4 C476.1,165.9 478.1,167.5 481.3,168.9 C484.5,170.3 489.4,171.6 492.7,172.6 C496.0,173.6 498.2,174.3 500.9,175.0 C503.6,175.7 505.0,175.9 509.1,176.6 C513.2,177.3 519.4,178.3 525.5,179.1 C531.6,179.9 542.4,181.2 545.8,181.6" fill="none" stroke="#9530ff" stroke-width="1.0" stroke-linejoin="round" stroke-linecap="round" />
<path d="M332.3,157.5 C332.4,156.1 332.8,152.7 333.2,149.2 C333.6,145.7 333.9,140.2 334.5,136.3 C335.1,132.4 335.7,129.9 336.5,126.0 C337.3,122.1 338.5,115.7 339.1,113.0 C339.7,110.3 339.4,111.9 339.9,109.6 C340.4,107.3 341.2,102.7 341.9,99.2 C342.6,95.8 343.5,92.4 344.2,88.9 C344.9,85.4 345.2,82.4 345.9,78.3 C346.6,74.2 347.6,68.0 348.5,64.5 C349.4,61.0 350.5,59.6 351.5,57.0 C352.5,54.4 353.4,51.1 354.6,49.0 C355.8,46.9 357.6,46.7 358.8,44.5 C360.0,42.3 360.8,38.7 361.8,36.0 C362.8,33.3 364.1,29.9 364.8,28.5 C365.5,27.1 365.6,27.3 366.2,27.5 C366.8,27.7 367.4,28.9 368.6,29.5 C369.8,30.1 371.8,30.7 373.2,30.9 C374.6,31.1 375.6,30.4 376.8,30.5 C378.0,30.6 379.3,31.6 380.5,31.8 C381.7,32.0 382.8,31.6 384.1,31.8 C385.5,32.0 387.2,32.3 388.6,32.7 C390.0,33.1 391.1,33.5 392.3,34.1 C393.5,34.7 394.7,35.6 395.9,36.4 C397.1,37.2 398.3,37.9 399.5,39.1 C400.7,40.3 401.6,40.7 403.2,43.5 C404.8,46.3 407.2,51.4 409.0,56.0 C410.8,60.6 412.3,66.7 414.0,71.0 C415.7,75.3 417.5,78.7 419.0,82.0 C420.5,85.3 421.7,87.8 423.0,91.0 C424.3,94.2 425.8,98.2 427.0,101.0 C428.2,103.8 428.6,104.9 430.0,107.8 C431.4,110.7 434.0,115.5 435.5,118.5 C437.0,121.5 437.8,123.8 438.8,125.8 C439.8,127.8 440.6,128.6 441.5,130.5 C442.4,132.4 443.5,135.3 444.2,137.0 C444.9,138.7 444.8,139.3 445.6,140.8 C446.5,142.3 447.4,143.5 449.3,145.8 C451.2,148.1 454.4,152.2 457.0,154.7 C459.6,157.1 462.3,158.8 465.0,160.5 C467.7,162.2 470.3,163.5 473.0,165.0 C475.7,166.5 477.7,168.0 481.0,169.3 C484.3,170.6 489.4,171.9 492.7,172.9 C496.0,173.9 498.2,174.5 500.9,175.2 C503.6,175.8 505.0,176.1 509.1,176.8 C513.2,177.5 519.4,178.5 525.5,179.3 C531.6,180.1 542.4,181.4 545.8,181.8" fill="none" stroke="#8a2a9a" stroke-width="1.0" stroke-linejoin="round" stroke-linecap="round" />
</g>
<rect x="51.3" y="3.8" width="215.89999999999998" height="187.0" fill="none" stroke="#000" stroke-width="1.5"/>
<rect x="331.1" y="3.7" width="215.19999999999993" height="186.3" fill="none" stroke="#000" stroke-width="1.5"/>
<rect x="193.4" y="240.9" width="202.6" height="176.29999999999998" fill="none" stroke="#000" stroke-width="1.5"/>
<line x1="101.12" y1="190.80" x2="101.12" y2="185.80" stroke="#000" stroke-width="1.5" />
<text x="101.12" y="207.20" font-size="14.6" text-anchor="middle" >320</text>
<line x1="167.55" y1="190.80" x2="167.55" y2="185.80" stroke="#000" stroke-width="1.5" />
<text x="167.55" y="207.20" font-size="14.6" text-anchor="middle" >360</text>
<line x1="233.98" y1="190.80" x2="233.98" y2="185.80" stroke="#000" stroke-width="1.5" />
<text x="233.98" y="207.20" font-size="14.6" text-anchor="middle" >400</text>
<line x1="51.30" y1="139.21" x2="56.30" y2="139.21" stroke="#000" stroke-width="1.5" />
<line x1="51.30" y1="87.63" x2="56.30" y2="87.63" stroke="#000" stroke-width="1.5" />
<line x1="51.30" y1="36.04" x2="56.30" y2="36.04" stroke="#000" stroke-width="1.5" />
<text x="46.40" y="194.70" font-size="14.6" text-anchor="end" >0</text>
<text x="46.40" y="143.11" font-size="14.6" text-anchor="end" >800</text>
<text x="46.40" y="91.53" font-size="14.6" text-anchor="end" >1600</text>
<text x="46.40" y="39.94" font-size="14.6" text-anchor="end" >2400</text>
<text x="159.95" y="223.60" font-size="14.6" text-anchor="middle" >Wavelength (nm)</text>
<text transform="translate(13.4,106.9) rotate(-90)" font-size="14.8" text-anchor="middle">Fluorescence intensity</text>
<text transform="translate(57.6,20.7) scale(0.93,1)" font-size="18.2">A</text>
<text x="55.40" y="174.60" font-size="13" text-anchor="start" >SSC</text>
<text x="83.00" y="180.60" font-size="13.2" text-anchor="start" >Warfarin</text>
<line x1="161.40" y1="12.90" x2="181.80" y2="12.90" stroke="#4a4a4a" stroke-width="1.5" />
<text x="184.00" y="16.20" font-size="8.9" text-anchor="start" style="stroke:none;fill:#1a1a1a">HSA</text>
<line x1="161.40" y1="24.02" x2="181.80" y2="24.02" stroke="#ff1010" stroke-width="1.5" />
<text x="184.00" y="27.32" font-size="8.9" text-anchor="start" style="stroke:none;fill:#1a1a1a">HSA-War</text>
<line x1="161.40" y1="35.14" x2="181.80" y2="35.14" stroke="#1515ff" stroke-width="1.5" />
<text x="184.00" y="38.44" font-size="8.9" text-anchor="start" style="stroke:none;fill:#1a1a1a">HSA-War-1 μM SSC</text>
<line x1="161.40" y1="46.26" x2="181.80" y2="46.26" stroke="#ff20ff" stroke-width="1.5" />
<text x="184.00" y="49.56" font-size="8.9" text-anchor="start" style="stroke:none;fill:#1a1a1a">HSA-War-3 μM SSC</text>
<line x1="161.40" y1="57.38" x2="181.80" y2="57.38" stroke="#1a901a" stroke-width="1.5" />
<text x="184.00" y="60.68" font-size="8.9" text-anchor="start" style="stroke:none;fill:#1a1a1a">HSA-War-6 μM SSC</text>
<line x1="161.40" y1="68.50" x2="181.80" y2="68.50" stroke="#24248e" stroke-width="1.5" />
<text x="184.00" y="71.80" font-size="8.9" text-anchor="start" style="stroke:none;fill:#1a1a1a">HSA-War-9 μM SSC</text>
<line x1="161.40" y1="79.62" x2="181.80" y2="79.62" stroke="#9530ff" stroke-width="1.5" />
<text x="184.00" y="82.92" font-size="8.9" text-anchor="start" style="stroke:none;fill:#1a1a1a">HSA-War-12 μM SSC</text>
<line x1="377.21" y1="190.00" x2="377.21" y2="185.00" stroke="#000" stroke-width="1.5" />
<text x="377.21" y="206.40" font-size="14.6" text-anchor="middle" >320</text>
<line x1="438.70" y1="190.00" x2="438.70" y2="185.00" stroke="#000" stroke-width="1.5" />
<text x="438.70" y="206.40" font-size="14.6" text-anchor="middle" >360</text>
<line x1="500.19" y1="190.00" x2="500.19" y2="185.00" stroke="#000" stroke-width="1.5" />
<text x="500.19" y="206.40" font-size="14.6" text-anchor="middle" >400</text>
<line x1="331.10" y1="136.77" x2="336.10" y2="136.77" stroke="#000" stroke-width="1.5" />
<line x1="331.10" y1="83.54" x2="336.10" y2="83.54" stroke="#000" stroke-width="1.5" />
<line x1="331.10" y1="30.31" x2="336.10" y2="30.31" stroke="#000" stroke-width="1.5" />
<text x="326.00" y="193.80" font-size="14.6" text-anchor="end" >0</text>
<text x="326.00" y="140.57" font-size="14.6" text-anchor="end" >800</text>
<text x="326.00" y="87.34" font-size="14.6" text-anchor="end" >1600</text>
<text x="326.00" y="34.11" font-size="14.6" text-anchor="end" >2400</text>
<text x="438.90" y="225.60" font-size="14.6" text-anchor="middle" >Wavelength (nm)</text>
<text transform="translate(295.2,106.1) rotate(-90)" font-size="14.8" text-anchor="middle">Fluorescence intensity</text>
<text transform="translate(336.6,19.8) scale(0.9,1)" font-size="18">B</text>
<text x="333.40" y="171.50" font-size="13" text-anchor="start" >SSC</text>
<text x="363.80" y="177.20" font-size="13" text-anchor="start" >Ibuprofen</text>
<line x1="441.00" y1="15.70" x2="461.70" y2="15.70" stroke="#222222" stroke-width="1.5" />
<text x="463.20" y="19.00" font-size="8.9" text-anchor="start" style="stroke:none;fill:#1a1a1a">HSA</text>
<line x1="441.00" y1="26.78" x2="461.70" y2="26.78" stroke="#ff3030" stroke-width="1.5" />
<text x="463.20" y="30.08" font-size="8.9" text-anchor="start" style="stroke:none;fill:#1a1a1a">HSA-Ibu</text>
<line x1="441.00" y1="37.86" x2="461.70" y2="37.86" stroke="#3535ff" stroke-width="1.5" />
<text x="463.20" y="41.16" font-size="8.9" text-anchor="start" style="stroke:none;fill:#1a1a1a">HSA-Ibu-1 μM SSC</text>
<line x1="441.00" y1="48.94" x2="461.70" y2="48.94" stroke="#ff50ff" stroke-width="1.5" />
<text x="463.20" y="52.24" font-size="8.9" text-anchor="start" style="stroke:none;fill:#1a1a1a">HSA-Ibu-3 μM SSC</text>
<line x1="441.00" y1="60.02" x2="461.70" y2="60.02" stroke="#40a040" stroke-width="1.5" />
<text x="463.20" y="63.32" font-size="8.9" text-anchor="start" style="stroke:none;fill:#1a1a1a">HSA-Ibu-6 μM SSC</text>
<line x1="441.00" y1="71.10" x2="461.70" y2="71.10" stroke="#4848a8" stroke-width="1.5" />
<text x="463.20" y="74.40" font-size="8.9" text-anchor="start" style="stroke:none;fill:#1a1a1a">HSA-Ibu-9 μM SSC</text>
<line x1="441.00" y1="82.18" x2="461.70" y2="82.18" stroke="#a855f5" stroke-width="1.5" />
<text x="463.20" y="85.48" font-size="8.9" text-anchor="start" style="stroke:none;fill:#1a1a1a">HSA-Ibu-12 μM SSC</text>
<line x1="260.90" y1="417.20" x2="260.90" y2="412.70" stroke="#000" stroke-width="1.5" />
<line x1="328.40" y1="417.20" x2="328.40" y2="412.70" stroke="#000" stroke-width="1.5" />
<line x1="193.40" y1="287.40" x2="197.90" y2="287.40" stroke="#000" stroke-width="1.5" />
<line x1="193.40" y1="333.90" x2="197.90" y2="333.90" stroke="#000" stroke-width="1.5" />
<line x1="193.40" y1="380.40" x2="197.90" y2="380.40" stroke="#000" stroke-width="1.5" />
<text x="193.40" y="432.70" font-size="14" text-anchor="middle" >-6.0</text>
<text x="260.90" y="432.70" font-size="14" text-anchor="middle" >-5.5</text>
<text x="328.40" y="432.70" font-size="14" text-anchor="middle" >-5.0</text>
<text x="395.90" y="432.70" font-size="14" text-anchor="middle" >-4.5</text>
<text x="188.80" y="244.50" font-size="14" text-anchor="end" >0.0</text>
<text x="188.80" y="291.00" font-size="14" text-anchor="end" >-0.5</text>
<text x="188.80" y="337.50" font-size="14" text-anchor="end" >-1.0</text>
<text x="188.80" y="384.00" font-size="14" text-anchor="end" >-1.5</text>
<text x="294.70" y="457.00" font-size="14" text-anchor="middle" >log [Q]</text>
<text transform="translate(158.5,311.7) rotate(-90)" font-size="13.2" text-anchor="middle">log (F<tspan font-size="9" dy="3.6">0</tspan><tspan dy="-3.6">-F)/F</tspan></text>
<text x="198.80" y="255.50" font-size="16.5" text-anchor="start" >C</text>
<line x1="217.00" y1="336.30" x2="376.00" y2="251.40" stroke="#000" stroke-width="1.5" />
<line x1="216.60" y1="349.00" x2="376.70" y2="262.30" stroke="#000" stroke-width="1.5" stroke-dasharray="7,5"/>
<line x1="216.70" y1="404.30" x2="376.00" y2="309.70" stroke="#000" stroke-width="1.5" />
<polygon points="214.30,345.96 219.70,345.96 217.00,341.64" fill="#000"/>
<polygon points="278.90,320.06 284.30,320.06 281.60,315.74" fill="#000"/>
<polygon points="319.30,297.36 324.70,297.36 322.00,293.04" fill="#000"/>
<polygon points="342.90,283.36 348.30,283.36 345.60,279.04" fill="#000"/>
<polygon points="360.40,269.36 365.80,269.36 363.10,265.04" fill="#000"/>
<polygon points="373.30,259.26 378.70,259.26 376.00,254.94" fill="#000"/>
<rect x="214.80" y="330.90" width="4.2" height="4.2" fill="#000"/>
<rect x="279.50" y="303.70" width="4.2" height="4.2" fill="#000"/>
<rect x="319.90" y="280.40" width="4.2" height="4.2" fill="#000"/>
<rect x="343.50" y="266.70" width="4.2" height="4.2" fill="#000"/>
<rect x="361.00" y="254.50" width="4.2" height="4.2" fill="#000"/>
<rect x="373.90" y="245.90" width="4.2" height="4.2" fill="#000"/>
<circle cx="216.70" cy="408.20" r="2.3" fill="#000"/>
<circle cx="281.50" cy="363.00" r="2.3" fill="#000"/>
<circle cx="322.00" cy="335.10" r="2.3" fill="#000"/>
<circle cx="345.80" cy="325.00" r="2.3" fill="#000"/>
<circle cx="362.80" cy="320.70" r="2.3" fill="#000"/>
<circle cx="376.00" cy="314.00" r="2.3" fill="#000"/>
<polygon points="220.20,250.76 225.60,250.76 222.90,246.44" fill="#000"/>
<text x="237.40" y="252.70" font-size="12.4" text-anchor="start" >HSA</text>
<rect x="220.90" y="261.90" width="4.2" height="4.2" fill="#000"/>
<text x="237.40" y="268.00" font-size="12.4" text-anchor="start" >Warfarin</text>
<circle cx="223.00" cy="279.50" r="2.3" fill="#000"/>
<text x="237.40" y="283.90" font-size="12.4" text-anchor="start" >Ibuprofen</text>
</svg></body></html>
